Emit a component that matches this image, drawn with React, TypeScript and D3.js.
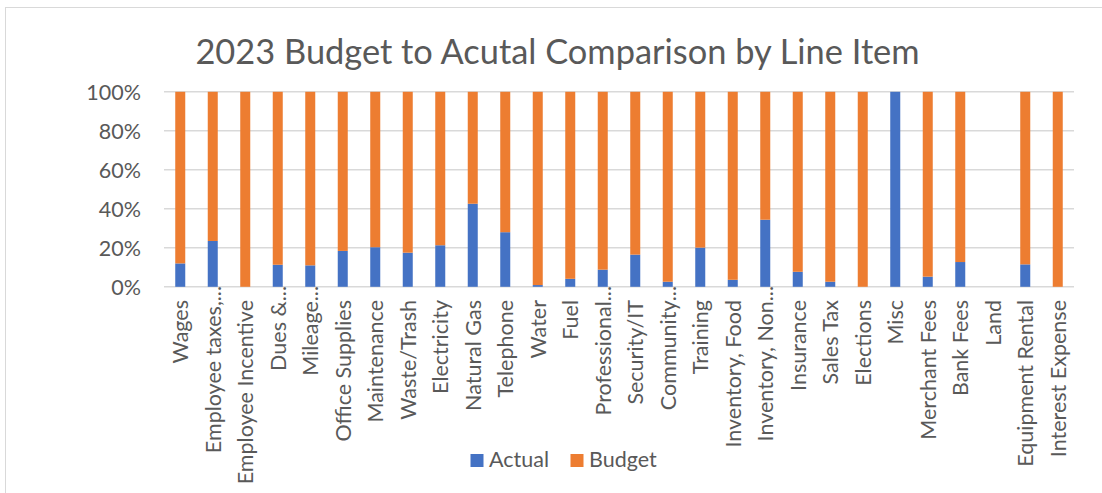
import React from "react";
import * as d3 from "d3";

const title = "2023 Budget to Acutal Comparison by Line Item";

const categories = [
  "Wages",
  "Employee taxes,...",
  "Employee Incentive",
  "Dues &...",
  "Mileage...",
  "Office Supplies",
  "Maintenance",
  "Waste/Trash",
  "Electricity",
  "Natural Gas",
  "Telephone",
  "Water",
  "Fuel",
  "Professional...",
  "Security/IT",
  "Community...",
  "Training",
  "Inventory, Food",
  "Inventory, Non...",
  "Insurance",
  "Sales Tax",
  "Elections",
  "Misc",
  "Merchant Fees",
  "Bank Fees",
  "Land",
  "Equipment Rental",
  "Interest Expense",
];

const actual = [
  12.0, 23.5, 0, 11.3, 11.0, 18.4, 20.3, 17.5, 21.3, 42.6, 28.0, 0.9, 4.1, 8.8,
  16.5, 2.6, 20.1, 3.6, 34.4, 7.7, 2.6, 0, 100, 5.2, 12.7, 0, 11.5, 0,
];

const budget = [
  88.0, 76.5, 100, 88.7, 89.0, 81.6, 79.7, 82.5, 78.7, 57.4, 72.0, 99.1, 95.9,
  91.2, 83.5, 97.4, 79.9, 96.4, 65.6, 92.3, 97.4, 100, 0, 94.8, 87.3, 0, 88.5,
  100,
];

const seriesNames = ["Actual", "Budget"];
const seriesColors = ["#4472c4", "#ed7d31"];
const yTicks = [0, 0.2, 0.4, 0.6, 0.8, 1.0];

const W = 1102;
const H = 493;
const FONT = "Lato, 'Open Sans', sans-serif";
const TEXT = "#595959";
const GRID = "#d9d9d9";

export default function App() {
  const rows = categories.map((c, i) => ({
    cat: c,
    Actual: actual[i],
    Budget: budget[i],
  }));

  const stack = d3
    .stack<any>()
    .keys(seriesNames)
    .offset((series: any, order: any) => {
      // expand offset but leave all-zero categories at zero
      const n = series[0].length;
      for (let j = 0; j < n; j++) {
        let sum = 0;
        for (const s of series) sum += s[j][1] - s[j][0];
        if (sum > 0) {
          for (const s of series) {
            s[j][0] /= sum;
            s[j][1] /= sum;
          }
        }
      }
      d3.stackOffsetNone(series, order);
    });
  const stacked = stack(rows);

  const x = d3
    .scaleBand<string>()
    .domain(categories)
    .range([164, 1074])
    .paddingInner(0.692)
    .paddingOuter(0.346);

  const y = d3.scaleLinear().domain([0, 1]).range([286.8, 91.8]);
  const fmt = d3.format(".0%");

  return (
    <svg
      width={W}
      height={H}
      style={{ position: "absolute", left: 0, top: 0, background: "#fff" }}
      fontFamily={FONT}
    >
      <rect x={0} y={0} width={W} height={H} fill="#fff" />
      <rect
        x={5.5}
        y={7.5}
        width={1300}
        height={700}
        fill="none"
        stroke={GRID}
        strokeWidth={1}
      />
      <text
        x={557.5}
        y={63.5}
        textAnchor="middle"
        fontSize={34.4}
        fill={TEXT}
      >
        {title}
      </text>

      {yTicks.map((t) => (
        <g key={t}>
          <line
            x1={x.range()[0]}
            x2={x.range()[1]}
            y1={y(t)}
            y2={y(t)}
            stroke={GRID}
            strokeWidth={1.4}
          />
          <text
            x={141}
            y={y(t)}
            dy="0.36em"
            textAnchor="end"
            fontSize={21.5}
            fill={TEXT}
          >
            {fmt(t)}
          </text>
        </g>
      ))}

      {stacked.map((s: any, si: number) => (
        <g key={seriesNames[si]} fill={seriesColors[si]}>
          {s.map((d: any, i: number) => {
            const h = y(d[0]) - y(d[1]);
            if (h <= 0) return null;
            return (
              <rect
                key={i}
                x={x(categories[i])}
                y={y(d[1])}
                width={x.bandwidth()}
                height={h}
              />
            );
          })}
        </g>
      ))}

      {categories.map((c) => {
        const cx = (x(c) as number) + x.bandwidth() / 2;
        const truncated = c.endsWith("...");
        const ty = truncated ? 286 : 300;
        return (
          <text
            key={c}
            transform={`translate(${cx},${ty}) rotate(-90)`}
            dy="0.36em"
            textAnchor="end"
            fontSize={21.5}
            fill={TEXT}
          >
            {c}
          </text>
        );
      })}

      {seriesNames.map((n, i) => {
        const lx = [470.5, 570.5][i];
        return (
          <g key={n}>
            <rect x={lx} y={454} width={13} height={13} fill={seriesColors[i]} />
            <text x={lx + 18.5} y={467} fontSize={21.5} fill={TEXT}>
              {n}
            </text>
          </g>
        );
      })}
    </svg>
  );
}
